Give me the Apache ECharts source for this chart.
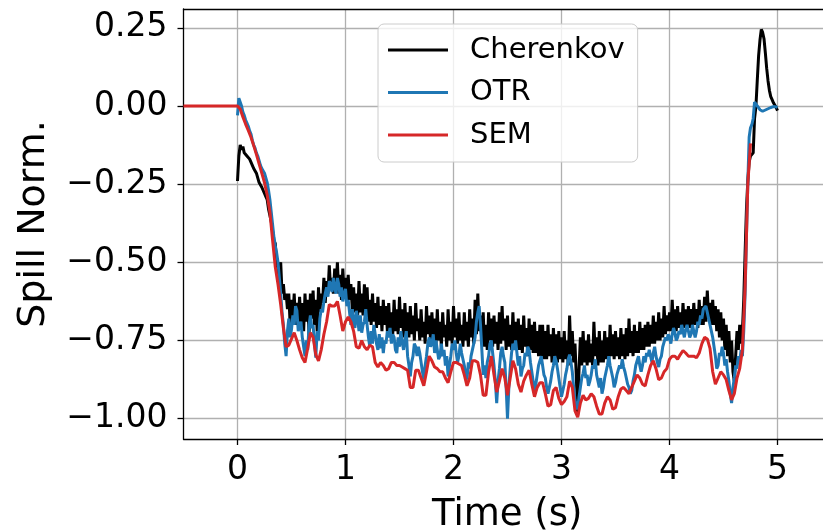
<!DOCTYPE html>
<html><head><meta charset="utf-8">
<script src="https://cdn.jsdelivr.net/npm/echarts@6/dist/echarts.min.js"></script>
<style>html,body{margin:0;padding:0;background:#fff}#c{width:823px;height:530px}</style>
</head><body><div id="c"></div><script>
// sampling steps of the traces (s)
const semStep = 0.025;
const fineStep = 0.0125;
const semStart = -0.5;
const otrStart = 0;
const cherStart = 0;

const seriesNames = ['Cherenkov', 'OTR', 'SEM'];
const xTicks = [0, 1, 2, 3, 4, 5];
const yTicks = [-1, -0.75, -0.5, -0.25, 0, 0.25];

// SEM from t = -0.5 s, every 0.025 s
const semValues = [
  0,0,0,0,0,0,0,0, 0,0,0,0,0,0,0,0, 0,0,0,0,
  0, -0.01, -0.035, -0.058, -0.078, -0.1, -0.127, -0.155,
  -0.185, -0.215, -0.245, -0.285, -0.34, -0.43, -0.515, -0.57,
  -0.635, -0.71, -0.77, -0.765, -0.745, -0.725, -0.75, -0.78,
  -0.805, -0.82, -0.775, -0.725, -0.74, -0.795, -0.815, -0.78,
  -0.73, -0.69, -0.635, -0.64, -0.64, -0.625, -0.67, -0.72,
  -0.69, -0.675, -0.69, -0.72, -0.77, -0.775, -0.75, -0.77,
  -0.78, -0.765, -0.77, -0.82, -0.835, -0.82, -0.83, -0.845,
  -0.84, -0.82, -0.82, -0.83, -0.83, -0.835, -0.84, -0.845,
  -0.9, -0.9, -0.845, -0.845, -0.87, -0.895, -0.85, -0.8,
  -0.815, -0.835, -0.84, -0.85, -0.85, -0.87, -0.885, -0.85,
  -0.82, -0.82, -0.825, -0.83, -0.86, -0.895, -0.87, -0.815,
  -0.815, -0.82, -0.86, -0.925, -0.925, -0.85, -0.8, -0.86,
  -0.915, -0.88, -0.84, -0.87, -0.925, -0.87, -0.815, -0.84,
  -0.89, -0.915, -0.88, -0.86, -0.845, -0.89, -0.93, -0.9,
  -0.885, -0.885, -0.92, -0.96, -0.955, -0.91, -0.9, -0.935,
  -0.955, -0.945, -0.93, -0.88, -0.9, -0.975, -0.995, -0.95,
  -0.925, -0.94, -0.935, -0.92, -0.93, -0.96, -0.985, -0.985,
  -0.95, -0.93, -0.94, -0.97, -0.965, -0.93, -0.905, -0.9,
  -0.91, -0.92, -0.9, -0.88, -0.86, -0.87, -0.89, -0.895,
  -0.86, -0.83, -0.815, -0.84, -0.875, -0.87, -0.85, -0.84,
  -0.81, -0.8, -0.8, -0.81, -0.795, -0.782, -0.79, -0.8,
  -0.8, -0.8, -0.805, -0.79, -0.76, -0.74, -0.745, -0.775,
  -0.85, -0.89, -0.87, -0.85, -0.86, -0.875, -0.91, -0.94,
  -0.92, -0.87, -0.84, -0.78, -0.58, -0.25, -0.12
];

// OTR from t = 0 s, every 0.0125 s (16 values = 0.2 s per row)
const otrValues = [
  -0.03, 0.025, 0.02, 0.0, -0.02, -0.03, -0.045, -0.055, -0.065, -0.08, -0.09, -0.11, -0.125, -0.135, -0.15, -0.16,
  -0.175, -0.19, -0.2, -0.205, -0.215, -0.23, -0.245, -0.27, -0.3, -0.34, -0.38, -0.42, -0.45, -0.47, -0.5, -0.55,
  -0.6, -0.66, -0.7, -0.76, -0.8, -0.72, -0.68, -0.74, -0.715, -0.67, -0.7, -0.64, -0.655, -0.72, -0.7, -0.69,
  -0.74, -0.77, -0.8, -0.75, -0.78, -0.7, -0.67, -0.71, -0.7, -0.76, -0.805, -0.72, -0.75, -0.68, -0.65, -0.66,
  -0.625, -0.6, -0.58, -0.61, -0.56, -0.57, -0.595, -0.55, -0.58, -0.6, -0.55, -0.57, -0.61, -0.58, -0.625, -0.6,
  -0.585, -0.64, -0.62, -0.66, -0.7, -0.65, -0.69, -0.71, -0.655, -0.68, -0.72, -0.67, -0.725, -0.7, -0.69, -0.65,
  -0.7, -0.74, -0.77, -0.72, -0.76, -0.7, -0.73, -0.76, -0.78, -0.73, -0.775, -0.74, -0.79, -0.75, -0.76, -0.72,
  -0.74, -0.71, -0.76, -0.73, -0.74, -0.78, -0.79, -0.74, -0.77, -0.72, -0.755, -0.78, -0.75, -0.72, -0.8, -0.83,
  -0.865, -0.82, -0.8, -0.76, -0.77, -0.8, -0.77, -0.79, -0.82, -0.85, -0.875, -0.83, -0.8, -0.76, -0.74, -0.77,
  -0.76, -0.73, -0.79, -0.75, -0.78, -0.81, -0.8, -0.76, -0.8, -0.78, -0.83, -0.8, -0.865, -0.83, -0.8, -0.76,
  -0.78, -0.75, -0.79, -0.82, -0.8, -0.76, -0.79, -0.81, -0.83, -0.86, -0.875, -0.82, -0.84, -0.8, -0.78, -0.76,
  -0.74, -0.69, -0.66, -0.64, -0.7, -0.78, -0.86, -0.83, -0.87, -0.82, -0.8, -0.76, -0.75, -0.79, -0.83, -0.88,
  -0.95, -0.88, -0.84, -0.79, -0.77, -0.8, -0.82, -0.9, -1.0, -0.9, -0.84, -0.79, -0.76, -0.78, -0.75, -0.79,
  -0.83, -0.8, -0.865, -0.84, -0.83, -0.79, -0.8, -0.77, -0.78, -0.82, -0.85, -0.88, -0.92, -0.89, -0.86, -0.83,
  -0.83, -0.8, -0.83, -0.86, -0.87, -0.9, -0.92, -0.9, -0.88, -0.85, -0.83, -0.8, -0.815, -0.84, -0.87, -0.9,
  -0.93, -0.91, -0.89, -0.86, -0.84, -0.81, -0.795, -0.82, -0.85, -0.9, -0.94, -0.96, -0.97, -0.93, -0.9, -0.87,
  -0.855, -0.83, -0.87, -0.86, -0.895, -0.88, -0.86, -0.83, -0.84, -0.81, -0.86, -0.88, -0.9, -0.87, -0.92, -0.9,
  -0.87, -0.85, -0.83, -0.8, -0.83, -0.85, -0.87, -0.9, -0.885, -0.86, -0.86, -0.83, -0.84, -0.81, -0.835, -0.85,
  -0.87, -0.89, -0.9, -0.92, -0.91, -0.88, -0.86, -0.83, -0.825, -0.8, -0.83, -0.85, -0.83, -0.8, -0.82, -0.79,
  -0.8, -0.78, -0.8, -0.82, -0.79, -0.77, -0.8, -0.82, -0.835, -0.81, -0.8, -0.77, -0.77, -0.74, -0.75, -0.73,
  -0.74, -0.76, -0.73, -0.71, -0.725, -0.75, -0.74, -0.72, -0.73, -0.7, -0.72, -0.74, -0.715, -0.7, -0.72, -0.74,
  -0.73, -0.7, -0.72, -0.74, -0.72, -0.69, -0.7, -0.67, -0.68, -0.65, -0.655, -0.64, -0.66, -0.68, -0.7, -0.72,
  -0.74, -0.77, -0.8, -0.84, -0.83, -0.79, -0.8, -0.77, -0.79, -0.83, -0.81, -0.85, -0.88, -0.92, -0.95, -0.9,
  -0.87, -0.83, -0.84, -0.8, -0.82, -0.78, -0.8, -0.72, -0.6, -0.42, -0.25, -0.1, -0.07, -0.06, -0.04, 0.012,
  0.008, 0.0, -0.005, -0.012, -0.015, -0.017, -0.016, -0.013, -0.01, -0.009, -0.008, -0.005, -0.003, -0.002, -0.002, -0.003,
  -0.005
];

// Cherenkov from t = 0 s, every 0.0125 s (16 values = 0.2 s per row)
const cherValues = [
  -0.24, -0.16, -0.125, -0.14, -0.13, -0.15, -0.145, -0.16, -0.155, -0.17, -0.175, -0.19, -0.2, -0.205, -0.215, -0.23,
  -0.245, -0.25, -0.26, -0.255, -0.28, -0.29, -0.3, -0.33, -0.35, -0.37, -0.4, -0.43, -0.44, -0.5, -0.55, -0.52,
  -0.5, -0.6, -0.57, -0.62, -0.6, -0.65, -0.6, -0.7, -0.62, -0.68, -0.6, -0.7, -0.63, -0.69, -0.61, -0.7,
  -0.63, -0.72, -0.6, -0.69, -0.62, -0.73, -0.6, -0.68, -0.59, -0.7, -0.62, -0.72, -0.58, -0.66, -0.6, -0.63,
  -0.55, -0.63, -0.56, -0.6, -0.51, -0.59, -0.55, -0.6, -0.52, -0.58, -0.5, -0.6, -0.54, -0.62, -0.52, -0.6,
  -0.55, -0.63, -0.54, -0.62, -0.57, -0.65, -0.58, -0.66, -0.6, -0.67, -0.56, -0.66, -0.6, -0.67, -0.57, -0.68,
  -0.58, -0.69, -0.62, -0.7, -0.6, -0.69, -0.63, -0.71, -0.61, -0.7, -0.64, -0.72, -0.62, -0.7, -0.64, -0.72,
  -0.63, -0.71, -0.66, -0.73, -0.62, -0.72, -0.65, -0.73, -0.61, -0.71, -0.65, -0.74, -0.63, -0.72, -0.66, -0.74,
  -0.64, -0.73, -0.67, -0.75, -0.63, -0.72, -0.68, -0.75, -0.65, -0.74, -0.69, -0.76, -0.64, -0.73, -0.67, -0.75,
  -0.66, -0.74, -0.68, -0.76, -0.65, -0.75, -0.69, -0.77, -0.66, -0.74, -0.7, -0.77, -0.65, -0.75, -0.69, -0.76,
  -0.64, -0.74, -0.68, -0.76, -0.66, -0.75, -0.7, -0.77, -0.66, -0.75, -0.69, -0.77, -0.65, -0.74, -0.68, -0.76,
  -0.62, -0.73, -0.6, -0.72, -0.67, -0.76, -0.66, -0.77, -0.7, -0.78, -0.66, -0.75, -0.68, -0.77, -0.67, -0.76,
  -0.69, -0.78, -0.66, -0.76, -0.64, -0.75, -0.68, -0.78, -0.67, -0.77, -0.7, -0.78, -0.66, -0.76, -0.69, -0.78,
  -0.68, -0.78, -0.7, -0.79, -0.67, -0.77, -0.71, -0.8, -0.68, -0.78, -0.7, -0.79, -0.69, -0.79, -0.72, -0.8,
  -0.7, -0.8, -0.7, -0.81, -0.72, -0.81, -0.7, -0.8, -0.73, -0.82, -0.71, -0.8, -0.73, -0.82, -0.72, -0.81,
  -0.74, -0.82, -0.72, -0.81, -0.75, -0.83, -0.67, -0.8, -0.72, -0.82, -0.76, -0.87, -0.99, -0.84, -0.74, -0.83,
  -0.72, -0.82, -0.75, -0.83, -0.73, -0.82, -0.76, -0.83, -0.69, -0.8, -0.74, -0.83, -0.72, -0.82, -0.75, -0.82,
  -0.72, -0.81, -0.74, -0.82, -0.7, -0.8, -0.73, -0.81, -0.72, -0.8, -0.74, -0.81, -0.71, -0.8, -0.73, -0.81,
  -0.71, -0.8, -0.68, -0.79, -0.72, -0.8, -0.7, -0.79, -0.72, -0.79, -0.69, -0.78, -0.71, -0.78, -0.7, -0.77,
  -0.69, -0.77, -0.7, -0.76, -0.67, -0.76, -0.69, -0.75, -0.66, -0.75, -0.68, -0.74, -0.64, -0.73, -0.67, -0.72,
  -0.66, -0.72, -0.62, -0.71, -0.65, -0.72, -0.64, -0.71, -0.66, -0.72, -0.63, -0.71, -0.65, -0.72, -0.64, -0.71,
  -0.65, -0.71, -0.63, -0.7, -0.65, -0.71, -0.62, -0.7, -0.64, -0.7, -0.61, -0.69, -0.59, -0.68, -0.63, -0.7,
  -0.62, -0.7, -0.64, -0.72, -0.65, -0.74, -0.66, -0.75, -0.68, -0.78, -0.7, -0.8, -0.72, -0.82, -0.75, -0.85,
  -0.88, -0.8, -0.72, -0.78, -0.7, -0.76, -0.72, -0.62, -0.47, -0.33, -0.24, -0.18, -0.16, -0.155, -0.15, -0.04,
  -0.003, 0.08, 0.16, 0.21, 0.245, 0.235, 0.215, 0.17, 0.12, 0.08, 0.05, 0.03, 0.02, 0.01, 0.005, -0.005,
  -0.015
];

function pairs(start, vals, st) {
  return vals.map((v, i) => [Math.round((start + i * st) * 10000) / 10000, v]);
}
const fmtY = v => (v < 0 ? '\u2212' : '') + Math.abs(v).toFixed(2);
const FONT = 'DejaVu Sans';
const X_MIN = -0.5, X_MAX = 5.4213;   // axis runs to 5.5, picture is cut at the right

const chart = echarts.init(document.getElementById('c'), null, { renderer: 'canvas' });
const lineSeries = (name, color, data) => ({
  name, type: 'line', data, color,
  showSymbol: false, symbol: 'none', silent: true,
  lineStyle: { color, width: 3 },
  emphasis: { disabled: true }
});

chart.setOption({
  animation: false,
  backgroundColor: '#ffffff',
  grid: { left: 183.5, top: 9, right: 0, bottom: 91, show: false, containLabel: false, outerBoundsMode: 'none' },
  legend: {
    orient: 'vertical', left: 378, top: 24,
    padding: [11.5, 13, 12.5, 10], itemGap: 13.5,
    itemWidth: 60, itemHeight: 3, icon: 'rect',
    backgroundColor: 'rgba(255,255,255,0.8)', borderColor: '#cccccc', borderWidth: 1, borderRadius: 6,
    textStyle: { fontSize: 29, fontFamily: FONT, color: '#000', padding: [0, 0, 0, 17] },
    data: seriesNames
  },
  xAxis: [{
    type: 'value', min: X_MIN, max: X_MAX,
    axisLine: { show: true, onZero: false, lineStyle: { color: '#000', width: 1.3 } },
    axisTick: { show: true, customValues: xTicks, length: 6, lineStyle: { color: '#000', width: 1.3 } },
    axisLabel: { customValues: xTicks, fontSize: 33, color: '#000', fontFamily: FONT, margin: 15 },
    splitLine: { show: true, lineStyle: { color: '#b0b0b0', width: 1.3 } },
    name: 'Time (s)', nameLocation: 'middle', nameGap: 58,
    nameTextStyle: { fontSize: 37, color: '#000', fontFamily: FONT, padding: [0, 0, 0, 8] }
  }, {
    type: 'value', position: 'top', min: X_MIN, max: X_MAX,
    axisLine: { show: true, onZero: false, lineStyle: { color: '#000', width: 1.3 } },
    axisTick: { show: false }, axisLabel: { show: false }, splitLine: { show: false }
  }],
  yAxis: {
    type: 'value', min: -1.065, max: 0.31,
    axisLine: { show: true, onZero: false, lineStyle: { color: '#000', width: 1.3 } },
    axisTick: { show: true, customValues: yTicks, length: 6, lineStyle: { color: '#000', width: 1.3 } },
    axisLabel: { customValues: yTicks, fontSize: 33, color: '#000', fontFamily: FONT, margin: 16, formatter: fmtY },
    splitLine: { show: true, lineStyle: { color: '#b0b0b0', width: 1.3 } },
    name: 'Spill Norm.', nameLocation: 'middle', nameGap: 130, nameRotate: 90,
    nameTextStyle: { fontSize: 38, color: '#000', fontFamily: FONT }
  },
  series: [
    lineSeries('Cherenkov', '#000000', pairs(cherStart, cherValues, fineStep)),
    lineSeries('OTR', '#1f77b4', pairs(otrStart, otrValues, fineStep)),
    lineSeries('SEM', '#d62728', pairs(semStart, semValues, semStep))
  ]
});
</script></body></html>
